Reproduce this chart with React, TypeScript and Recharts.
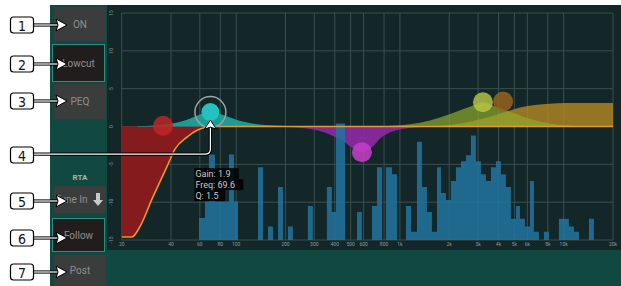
import React from "react";
import { ComposedChart, Area, Line, XAxis, YAxis, CartesianGrid, ReferenceDot } from "recharts";

const W = 621;
const H = 286;

// axes
const xTicks = [20, 40, 60, 80, 100, 200, 300, 400, 500, 600, 800, 1000, 2000, 3000, 4000, 5000, 6000, 8000, 10000, 20000];
const xTickLabels = ["20", "40", "60", "80", "100", "200", "300", "400", "500", "600", "800", "1k", "2k", "3k", "4k", "5k", "6k", "8k", "10k", "20k"];
const yTicks = [15, 10, 5, 0, -5, -10, -15];

// RTA spectrum (band start frequency, level in dB; -15 = empty)
const rtaFreq = [20, 59.3, 64.5, 68.2, 74.2, 90.4, 97, 102.6, 135.9, 145.8, 156.4, 167.8, 180, 193, 207, 222, 274, 294, 358, 384, 407, 462, 547, 586, 675, 724, 777, 821, 894, 959, 1088, 1168, 1270, 1363, 1462, 1568, 1683, 1780, 1910, 2048, 2198, 2358, 2530, 2714, 2911, 3123, 3350, 3594, 3856, 4137, 4438, 4761, 5108, 5404, 5798, 6220, 6578, 7057, 7570, 8122, 9348, 10030, 10761, 11544, 12385, 14257, 15293, 20000];
const rtaLevel = [-15, -12.1, -9.9, -3.7, -9.9, -3.7, -9.9, -15, -5.4, -15, -13.2, -15, -8, -15, -13.2, -15, -10.5, -15, -8, -11.3, 0.4, -15, -11.3, -15, -10.5, -5.4, -15, -5.4, -6.3, -15, -10.5, -13.9, -2, -8, -11.3, -13.9, -5.4, -8.8, -9.7, -7.2, -5.4, -4.6, -3.8, -1.2, -4.6, -6.3, -7.2, -5.4, -4.6, -6.3, -8, -12.2, -10.5, -12.2, -13.2, -7.2, -13.9, -15, -13.9, -15, -12.2, -12.2, -13.2, -13.9, -15, -12.2, -15, -15];

// low cut response
const lowCutFreq = [20, 23.1, 25.9, 30.6, 37.8, 42.3, 50.1, 57.7, 66.3, 74.2, 20000];
const lowCutGain = [-14.6, -14.6, -13.2, -9.6, -5.3, -3.0, -1.4, -0.5, -0.1, 0, 0];

// PEQ bands
const band1Freq = [25, 30, 35, 40, 45, 50, 55, 60, 65, 69.6, 75, 80, 90, 100, 110, 125, 150, 200, 300];
const band1Gain = [0.05, 0.1, 0.2, 0.35, 0.6, 0.9, 1.25, 1.6, 1.85, 1.9, 1.85, 1.65, 1.25, 0.9, 0.65, 0.4, 0.2, 0.08, 0];
const band2Freq = [213, 294, 348, 412, 462, 495, 539, 586, 638, 694, 755, 869, 1000, 1324, 1754];
const band2Gain = [-0.1, -0.4, -0.8, -1.5, -2.1, -2.6, -3.1, -3.4, -3.1, -2.5, -1.6, -0.8, -0.4, -0.1, 0];
const band3Freq = [700, 1000, 1324, 1754, 2107, 2676, 3212, 3856, 4897, 5879, 7788, 10300, 14000];
const band3Gain = [0, 0.15, 0.5, 1.2, 1.8, 2.6, 3.2, 2.6, 1.8, 1.2, 0.5, 0.15, 0];
const shelfFreq = [1200, 1754, 2323, 2871, 3544, 4080, 4696, 5404, 6668, 8237, 10172, 20000];
const shelfGain = [0, 0.1, 0.4, 0.8, 1.3, 1.7, 2.1, 2.5, 2.85, 3.0, 3.1, 3.1];

// nodes: low cut, band 1..3, high shelf
const nodeFreq = [35.8, 69.6, 586, 3212, 4266];
const nodeGain = [0.1, 1.9, -3.4, 3.2, 3.3];
const nodeColors = ["rgba(190,38,38,0.85)", "#22c3be", "rgba(200,62,200,0.85)", "rgba(190,200,70,0.8)", "rgba(150,100,30,0.85)"];

// selected band readout
const selGain = 1.9;
const selFreq = 69.6;
const selQ = 1.5;

const calloutY = [25, 64, 101, 155, 201, 238, 272];

const toData = (fs: number[], vs: number[]) => fs.map((f, i) => ({ f, v: vs[i] }));

const XTick = ({ x, y, payload }: any) => (
  <text x={x} y={y - 4} fontSize={5} fill="#8b9b9b" textAnchor="middle" dominantBaseline="central">
    {xTickLabels[xTicks.indexOf(payload.value)]}
  </text>
);

const YTick = ({ x, y, payload }: any) => (
  <text
    x={x - 3}
    y={y}
    transform={`rotate(-90 ${x - 3} ${y})`}
    fontSize={5}
    fill="#8b9b9b"
    textAnchor="middle"
    dominantBaseline="central"
  >
    {payload.value}
  </text>
);

const SelectedNode = ({ cx, cy }: any) => {
  const lines = [`Gain: ${selGain}`, `Freq: ${selFreq}`, `Q: ${selQ}`];
  return (
    <g>
      <circle cx={cx} cy={cy} r={9} fill={nodeColors[1]} />
      <circle cx={cx} cy={cy} r={15.5} fill="none" stroke="#9ea3a3" strokeWidth={1.5} />
      {lines.map((t, i) => (
        <g key={i}>
          <rect x={cx - 16} y={cy + 56 + i * 11} width={t.length * 4.6 + 3} height={11} fill="rgba(0,0,0,0.85)" />
          <text x={cx - 15} y={cy + 62 + i * 11} fontSize={9} fill="#c9c9c9" dominantBaseline="central" fontFamily="Roboto, sans-serif">
            {t}
          </text>
        </g>
      ))}
    </g>
  );
};

const Callout4 = ({ cx, cy }: any) => {
  const yl = cy + 42;
  const d = `M 33 ${yl} H ${cx - 5} Q ${cx} ${yl} ${cx} ${yl - 5} V ${cy + 16}`;
  return (
    <g>
      <path d={d} fill="none" stroke="#000" strokeWidth={3.2} />
      <path d={d} fill="none" stroke="#fff" strokeWidth={1.2} />
      <polygon points={`${cx - 6},${cy + 17} ${cx},${cy + 8} ${cx + 6},${cy + 17} ${cx},${cy + 15}`} fill="#fff" stroke="#000" strokeWidth={1} />
    </g>
  );
};

function Button({ top, height, label, active }: { top: number; height: number; label: string; active?: boolean }) {
  return (
    <div
      style={{
        position: "absolute",
        left: active ? 52 : 54,
        top,
        width: active ? 51 : 52,
        height: active ? height - 3 : height,
        background: active ? "#221d1d" : "#3b3c3c",
        border: active ? "1.5px solid #2a8f80" : "none",
        color: "#8f8f8f",
        fontSize: 10,
        display: "flex",
        alignItems: "center",
        justifyContent: "center",
      }}
    >
      {label}
    </div>
  );
}

export default function App() {
  const rtaData = toData(rtaFreq, rtaLevel);
  const lowCutData = toData(lowCutFreq, lowCutGain);

  return (
    <div style={{ position: "absolute", left: 0, top: 0, width: W, height: H, background: "#fff", overflow: "hidden", fontFamily: "Roboto, sans-serif" }}>
      <div style={{ position: "absolute", left: 50, top: 5, width: 571, height: 281, background: "#114842" }} />
      <div style={{ position: "absolute", left: 107, top: 5, width: 514, height: 245, background: "#132628" }} />

      <Button top={7} height={34} label="ON" />
      <Button top={44} height={39} label="Lowcut" active />
      <Button top={84} height={35} label="PEQ" />
      <div style={{ position: "absolute", left: 54, top: 173, width: 52, textAlign: "center", color: "#a9b4b4", fontSize: 8, fontWeight: 700 }}>RTA</div>
      <div style={{ position: "absolute", left: 54, top: 186, width: 52, height: 27, background: "#3b3c3c" }}>
        <span style={{ position: "absolute", left: 1, top: 8, color: "#8f8f8f", fontSize: 10, whiteSpace: "nowrap" }}>Tune In</span>
        <svg width={10} height={13} style={{ position: "absolute", left: 39, top: 7 }}>
          <path d="M3 0 H7 V7 H10 L5 13 L0 7 H3 Z" fill="#c8c8c8" />
        </svg>
      </div>
      <Button top={218} height={35} label="Follow" active />
      <Button top={255} height={31} label="Post" />

      <div style={{ position: "absolute", left: 0, top: 0 }}>
        <ComposedChart width={W} height={H} margin={{ top: 13, right: 8, bottom: 36, left: 107.7 }}>
          <CartesianGrid stroke="#3b4f50" strokeWidth={1} />
          <XAxis
            dataKey="f"
            type="number"
            scale="log"
            domain={[20, 20000]}
            ticks={xTicks}
            interval={0}
            allowDataOverflow
            axisLine={false}
            tickLine={false}
            height={10}
            tick={<XTick />}
          />
          <YAxis
            type="number"
            domain={[-15, 15]}
            ticks={yTicks}
            interval={0}
            allowDataOverflow
            axisLine={false}
            tickLine={false}
            width={14}
            tick={<YTick />}
          />
          <Area data={lowCutData} dataKey="v" type="monotone" fill="#8b1a1c" fillOpacity={0.95} stroke="none" isAnimationActive={false} />
          <Area data={toData(band1Freq, band1Gain)} dataKey="v" type="monotone" fill="#1fa8a2" fillOpacity={0.9} stroke="none" isAnimationActive={false} />
          <Area data={toData(band2Freq, band2Gain)} dataKey="v" type="monotone" fill="#8f2aa4" fillOpacity={0.9} stroke="none" isAnimationActive={false} />
          <Area data={toData(shelfFreq, shelfGain)} dataKey="v" type="monotone" fill="#b88c22" fillOpacity={0.78} stroke="none" isAnimationActive={false} />
          <Area data={toData(band3Freq, band3Gain)} dataKey="v" type="monotone" fill="#8eaa2e" fillOpacity={0.7} stroke="none" isAnimationActive={false} />
          <Area data={rtaData} dataKey="v" type="stepAfter" baseValue={-15} fill="#2274a0" fillOpacity={0.85} stroke="none" isAnimationActive={false} />
          <Line data={lowCutData} dataKey="v" type="monotone" stroke="#e8982c" strokeWidth={1.6} dot={false} isAnimationActive={false} />
          {nodeFreq.map((f, i) =>
            i === 1 ? null : (
              <ReferenceDot key={i} x={f} y={nodeGain[i]} r={10} fill={nodeColors[i]} stroke="none" />
            )
          )}
          <ReferenceDot x={nodeFreq[1]} y={nodeGain[1]} r={9} shape={<SelectedNode />} />
          <ReferenceDot x={nodeFreq[1]} y={nodeGain[1]} r={1} shape={<Callout4 />} />
        </ComposedChart>
      </div>

      <svg width={W} height={H} style={{ position: "absolute", left: 0, top: 0 }}>
        {calloutY.map((y, i) => (
          <g key={i}>
            {i !== 3 && (
              <g>
                <path d={`M 33 ${y} H 58`} stroke="#000" strokeWidth={3.2} />
                <path d={`M 33 ${y} H 58`} stroke="#fff" strokeWidth={1.2} />
                <polygon points={`56,${y - 6} 67,${y} 56,${y + 6} 58,${y}`} fill="#fff" stroke="#000" strokeWidth={1} />
              </g>
            )}
            <rect x={10.5} y={y - 8} width={23} height={16} rx={3} fill="#fff" stroke="#000" strokeWidth={1.2} />
            <text
              x={22}
              y={y + 0.5}
              fontSize={14}
              textAnchor="middle"
              dominantBaseline="central"
              fontFamily="'Liberation Sans Narrow', 'DejaVu Sans Condensed', sans-serif"
              fill="#111"
            >
              {i + 1}
            </text>
          </g>
        ))}
      </svg>
    </div>
  );
}
